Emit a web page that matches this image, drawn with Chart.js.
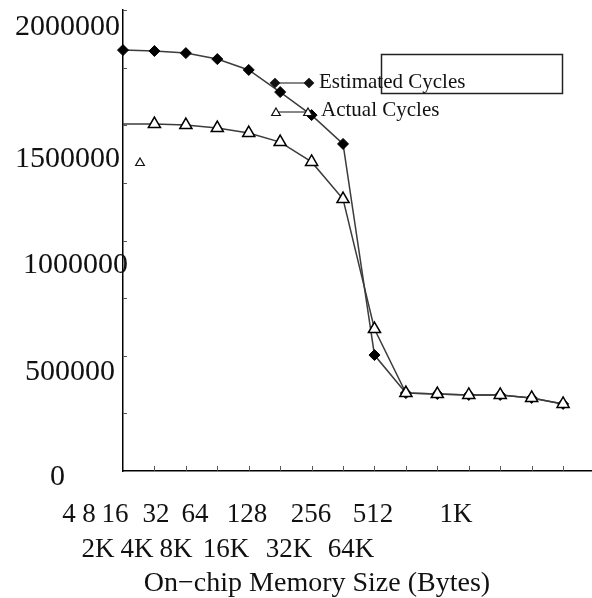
<!DOCTYPE html>
<html>
<head>
<meta charset="utf-8">
<script src="https://cdn.jsdelivr.net/npm/chart.js@4.4.1/dist/chart.umd.min.js"></script>
<style>
  html, body { margin: 0; padding: 0; background: #fff; }
  #wrap { position: relative; width: 592px; height: 598px; }
</style>
</head>
<body>
<div id="wrap"><canvas id="chart" width="592" height="598"></canvas></div>
<script>
// memory sizes (x categories)
const sizes = ['4', '8', '16', '32', '64', '128', '256', '512', '1K', '2K', '4K', '8K', '16K', '32K', '64K'];
const estimatedCycles = [1826000, 1822000, 1813000, 1787000, 1740000, 1644000, 1544000, 1419000, 503000, 338000, 334000, 330000, 330000, 317000, 291000];
const actualCycles = [1505000, 1505000, 1501000, 1488000, 1466000, 1427000, 1341000, 1180000, 616000, 338000, 334000, 330000, 330000, 317000, 291000];
const yTickLabels = ['0', '500000', '1000000', '1500000', '2000000'];
const seriesNames = ['Estimated Cycles', 'Actual Cycles'];
const xTitle = 'On\u2212chip Memory Size (Bytes)';

const FONT = '"Liberation Serif", "Times New Roman", serif';
const INK = '#111';
const LINE = '#3c3c3c';

// the original figure places its labels loosely, so they are laid out by hand here
const yLabelAt = [[65, 485], [115, 380], [128, 273], [120, 167], [120, 35]];
const xLabelAt = [
  [69, 522], [89, 522], [115, 522], [156, 522], [195, 522], [247, 522], [311, 522], [373, 522], [456, 522],
  [98, 557], [137, 557], [176, 557], [226, 557], [289, 557], [351, 557]
];

const paper = {
  id: 'paper',
  afterDraw(chart) {
    const { ctx, chartArea, scales } = chart;
    const { x, y } = scales;
    const draw = Chart.helpers.drawPoint;
    ctx.save();

    // inward tick marks
    ctx.strokeStyle = '#555';
    ctx.lineWidth = 1;
    ctx.beginPath();
    for (let v = 250000; v <= 2000000; v += 250000) {
      const py = Math.round(y.getPixelForValue(v)) + 0.5;
      ctx.moveTo(chartArea.left, py);
      ctx.lineTo(chartArea.left + 4, py);
    }
    for (let i = 1; i < sizes.length; i++) {
      const px = Math.round(x.getPixelForValue(i)) + 0.5;
      ctx.moveTo(px, chartArea.bottom);
      ctx.lineTo(px, chartArea.bottom - 5);
    }
    ctx.stroke();

    // tick labels
    ctx.fillStyle = INK;
    ctx.textBaseline = 'alphabetic';
    ctx.font = '30px ' + FONT;
    ctx.textAlign = 'right';
    yTickLabels.forEach((t, i) => ctx.fillText(t, yLabelAt[i][0], yLabelAt[i][1]));

    ctx.font = '27px ' + FONT;
    ctx.textAlign = 'center';
    sizes.forEach((t, i) => ctx.fillText(t, xLabelAt[i][0], xLabelAt[i][1]));

    ctx.font = '28px ' + FONT;
    ctx.fillText(xTitle, 317, 591);

    // legend
    ctx.strokeStyle = INK;
    ctx.lineWidth = 1.2;
    ctx.beginPath();
    ctx.moveTo(275, 83); ctx.lineTo(309, 83);
    ctx.moveTo(276, 112); ctx.lineTo(308, 112);
    ctx.stroke();

    ctx.fillStyle = INK;
    draw(ctx, { pointStyle: 'rectRot', radius: 4.5, rotation: 0, borderWidth: 1 }, 275, 83);
    draw(ctx, { pointStyle: 'rectRot', radius: 4.5, rotation: 0, borderWidth: 1 }, 309, 83);
    ctx.fillStyle = '#fff';
    ctx.lineWidth = 1.2;
    draw(ctx, { pointStyle: 'triangle', radius: 5, rotation: 0, borderWidth: 1.2 }, 276, 113);
    draw(ctx, { pointStyle: 'triangle', radius: 5, rotation: 0, borderWidth: 1.2 }, 308, 113);
    draw(ctx, { pointStyle: 'triangle', radius: 5, rotation: 0, borderWidth: 1.2 }, 140, 163);

    ctx.fillStyle = INK;
    ctx.textAlign = 'left';
    ctx.font = '21px ' + FONT;
    ctx.fillText(seriesNames[0], 319, 88);
    ctx.fillText(seriesNames[1], 321, 116);

    // empty frame left over in the original figure
    ctx.strokeStyle = '#222';
    ctx.lineWidth = 1.5;
    ctx.strokeRect(381.5, 54.5, 181, 39);

    ctx.restore();
  }
};

new Chart(document.getElementById('chart').getContext('2d'), {
  type: 'line',
  data: {
    datasets: [
      {
        label: seriesNames[0],
        data: estimatedCycles.map((v, i) => ({ x: i, y: v })),
        borderColor: LINE,
        borderWidth: 1.5,
        pointStyle: 'rectRot',
        pointRadius: 5.5,
        pointBackgroundColor: '#000',
        pointBorderColor: '#000',
        pointBorderWidth: 1,
        tension: 0,
        clip: false,
        order: 2
      },
      {
        label: seriesNames[1],
        data: actualCycles.map((v, i) => ({ x: i, y: v })),
        borderColor: LINE,
        borderWidth: 1.5,
        pointStyle: 'triangle',
        pointRadius: (c) => (c.dataIndex === 0 ? 0 : 7),
        pointBackgroundColor: '#fff',
        pointBorderColor: '#000',
        pointBorderWidth: 1.5,
        tension: 0,
        clip: false,
        order: 1
      }
    ]
  },
  options: {
    responsive: false,
    animation: false,
    events: [],
    layout: { autoPadding: false, padding: { left: 123, right: 0, top: 10, bottom: 127 } },
    plugins: { legend: { display: false }, tooltip: { enabled: false } },
    scales: {
      x: {
        type: 'linear',
        min: 0,
        max: 14.92,
        ticks: { display: false },
        grid: { display: false },
        border: { display: true, color: '#000', width: 1.5 },
        afterFit: (s) => { s.height = 0; }
      },
      y: {
        min: 0,
        max: 2000000,
        ticks: { display: false },
        grid: { display: false },
        border: { display: true, color: '#000', width: 1.5 },
        afterFit: (s) => { s.width = 0; }
      }
    }
  },
  plugins: [paper]
});
</script>
</body>
</html>
